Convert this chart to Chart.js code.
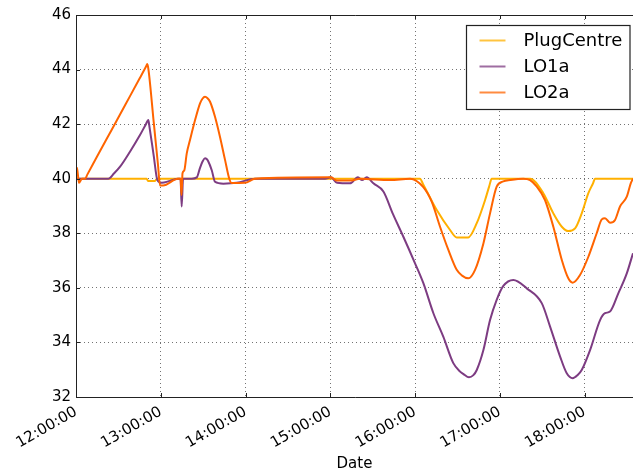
<!DOCTYPE html>
<html>
<head>
<meta charset="utf-8">
<script src="https://cdn.jsdelivr.net/npm/chart.js@4.4.1/dist/chart.umd.min.js"></script>
<style>
    html, body { margin: 0; padding: 0; background: #fff; }
    #wrap { width: 633px; height: 473px; }
</style>
</head>
<body>
<div id="wrap"><canvas id="chart" width="633" height="473"></canvas></div>
<script>
// x values are minutes after 12:00:00
const xTickValues = [0, 60, 120, 180, 240, 300, 360];
const yTickValues = [32, 34, 36, 38, 40, 42, 44, 46];

const plugX = [0, 50, 51, 55.9, 57.3, 243.5, 245.7, 255.4, 264.8, 269.5, 277.7, 283.7, 289.6, 292.5, 294.3, 321.4, 330.8, 337.9, 343.9, 348.5, 353.3, 358, 362.7, 366, 367.4, 394.3];
const plugY = [40, 40, 39.92, 39.92, 40, 40, 39.8, 38.85, 38.12, 37.85, 37.85, 38.37, 39.22, 39.72, 40, 40, 39.47, 38.73, 38.24, 38.08, 38.18, 38.73, 39.47, 39.83, 40, 40];

const lo1aX = [0, 22.9, 27, 31.2, 38.2, 45.3, 49.5, 51.2, 52, 55, 57.6, 60.7, 66.5, 72.2, 74.0, 74.8, 75.8, 81.9, 85.5, 87.8, 89.5, 91.3, 92.5, 93.5, 96.1, 98.4, 104.3, 113.8, 126.7, 176.3, 180.5, 184.8, 194, 199.6, 202.5, 205.8, 210.5, 217.6, 224.4, 231.5, 240, 245.9, 253, 260, 267.1, 271.9, 274.3, 278.2, 281.3, 283.7, 288.4, 293.1, 297.8, 302.5, 309.6, 319.1, 329.7, 335.6, 342.7, 347.4, 351.6, 355, 358, 363.9, 371, 374.5, 378, 383.9, 389.9, 394.3];
const lo1aY = [40, 40, 40.2, 40.44, 40.99, 41.6, 42.0, 42.15, 41.9, 40.85, 39.95, 39.85, 39.92, 40, 40, 38.98, 40, 40, 40.05, 40.4, 40.62, 40.75, 40.72, 40.65, 40.31, 39.89, 39.82, 39.85, 40, 40, 40.05, 39.85, 39.83, 40.05, 39.95, 40.05, 39.83, 39.53, 38.7, 37.9, 36.9, 36.17, 35.07, 34.21, 33.24, 32.93, 32.84, 32.72, 32.8, 32.99, 33.72, 34.82, 35.56, 36.07, 36.29, 35.98, 35.44, 34.58, 33.48, 32.87, 32.69, 32.8, 32.99, 33.72, 34.82, 35.07, 35.13, 35.8, 36.53, 37.27];

const lo2aX = [0, 0.7, 2.1, 4.2, 6.4, 8, 15, 25, 35, 45, 49.5, 50.5, 51.3, 55, 58, 59.5, 61.6, 72.2, 74.0, 74.7, 75.4, 76.6, 78.4, 80.7, 84.3, 87.8, 89.5, 91.3, 93.1, 94.9, 98.4, 101.9, 105.5, 108.5, 110.2, 119.6, 126.7, 180.5, 184.8, 194, 201, 222.3, 236.5, 245.7, 251.8, 257.7, 263.6, 269.5, 273.3, 277.7, 282.5, 288.4, 293.1, 297.8, 302.5, 307.3, 316.7, 321.4, 326.2, 332, 337.9, 343.9, 348.5, 351.6, 356.8, 362.7, 368.6, 372.2, 374.5, 378, 381.6, 385.1, 389.9, 392.7, 394.3];
const lo2aY = [40.3, 40.4, 39.85, 40, 40, 40.15, 40.82, 41.77, 42.72, 43.67, 44.1, 44.2, 44.0, 42.08, 40.53, 39.75, 39.75, 40, 40, 39.4, 40.2, 40.3, 40.93, 41.42, 42.15, 42.76, 42.93, 43.0, 42.95, 42.82, 42.27, 41.54, 40.69, 40.0, 39.84, 39.85, 40, 40.05, 39.93, 39.93, 40, 39.95, 40, 39.7, 39.16, 38.24, 37.39, 36.66, 36.45, 36.35, 36.66, 37.63, 38.73, 39.71, 39.9, 39.95, 40, 39.95, 39.71, 39.22, 38.24, 37.02, 36.35, 36.19, 36.47, 37.14, 38.0, 38.51, 38.55, 38.39, 38.49, 38.98, 39.34, 39.83, 40.0];

const FONT = 'DejaVu Sans';

function toPoints(xs, ys) {
    return xs.map((x, i) => ({ x: x, y: ys[i] }));
}

function fmtTime(mins) {
    const h = 12 + Math.floor(mins / 60);
    const m = Math.round(mins % 60);
    return String(h).padStart(2, '0') + ':' + String(m).padStart(2, '0') + ':00';
}

// matplotlib style frame (right spine is cut off by the figure) + inward ticks
const framePlugin = {
    id: 'frame',
    afterDraw(chart) {
        const { ctx, chartArea: a, scales } = chart;
        ctx.save();
        ctx.strokeStyle = '#222';
        ctx.lineWidth = 1;
        ctx.beginPath();
        ctx.moveTo(a.right + 2, a.top + 0.5);
        ctx.lineTo(a.left + 0.5, a.top + 0.5);
        ctx.lineTo(a.left + 0.5, a.bottom + 0.5);
        ctx.lineTo(a.right + 2, a.bottom + 0.5);
        ctx.stroke();
        ctx.beginPath();
        xTickValues.forEach(v => {
            const px = Math.round(scales.x.getPixelForValue(v)) + 0.5;
            ctx.moveTo(px, a.bottom); ctx.lineTo(px, a.bottom - 4);
            ctx.moveTo(px, a.top); ctx.lineTo(px, a.top + 4);
        });
        yTickValues.forEach(v => {
            const py = Math.round(scales.y.getPixelForValue(v)) + 0.5;
            ctx.moveTo(a.left, py); ctx.lineTo(a.left + 4, py);
        });
        ctx.stroke();
        ctx.restore();
    }
};

const legendPlugin = {
    id: 'boxLegend',
    afterDraw(chart) {
        const { ctx } = chart;
        const sets = chart.data.datasets;
        const bx = 466.5, by = 25.5, bw = 163.5, bh = 84;
        ctx.save();
        ctx.fillStyle = '#fff';
        ctx.fillRect(bx, by, bw, bh);
        ctx.strokeStyle = '#222';
        ctx.lineWidth = 1.2;
        ctx.strokeRect(bx, by, bw, bh);
        ctx.font = '18px "' + FONT + '"';
        ctx.textBaseline = 'middle';
        ctx.textAlign = 'left';
        sets.forEach((ds, i) => {
            const y = by + 15 + i * 26;
            ctx.globalAlpha = 0.75;
            ctx.strokeStyle = ds.borderColor;
            ctx.lineWidth = 2;
            ctx.beginPath();
            ctx.moveTo(bx + 13, y); ctx.lineTo(bx + 39, y);
            ctx.stroke();
            ctx.globalAlpha = 1;
            ctx.fillStyle = '#000';
            ctx.fillText(ds.label, bx + 57, y + 1);
        });
        ctx.restore();
    }
};

const gridStyle = {
    color: 'rgba(0,0,0,0.55)',
    lineWidth: 1,
    drawTicks: false
};
const borderStyle = { display: false, dash: [1, 3] };

new Chart(document.getElementById('chart'), {
    type: 'line',
    data: {
        datasets: [
            { label: 'PlugCentre', data: toPoints(plugX, plugY), borderColor: '#FFB000', order: 3 },
            { label: 'LO1a', data: toPoints(lo1aX, lo1aY), borderColor: '#7D3C82', order: 2 },
            { label: 'LO2a', data: toPoints(lo2aX, lo2aY), borderColor: '#FF6400', order: 1 }
        ]
    },
    options: {
        responsive: false,
        animation: false,
        layout: { padding: { top: 15, right: 0, left: 0, bottom: 0 } },
        elements: {
            line: { borderWidth: 2, cubicInterpolationMode: 'monotone', fill: false },
            point: { radius: 0 }
        },
        plugins: { legend: { display: false }, tooltip: { enabled: false } },
        scales: {
            x: {
                type: 'linear',
                min: 0,
                max: 394.3,
                grid: gridStyle,
                border: borderStyle,
                afterBuildTicks: s => { s.ticks = xTickValues.map(v => ({ value: v })); },
                afterFit: s => { s.height = 76; },
                ticks: {
                    autoSkip: false,
                    minRotation: 30,
                    maxRotation: 30,
                    padding: 6,
                    color: '#000',
                    font: { family: FONT, size: 15 },
                    callback: v => fmtTime(v)
                },
                title: {
                    display: true,
                    text: 'Date',
                    color: '#000',
                    font: { family: FONT, size: 15 },
                    padding: { top: 0, bottom: 0 }
                }
            },
            y: {
                min: 32,
                max: 46,
                grid: gridStyle,
                border: borderStyle,
                afterBuildTicks: s => { s.ticks = yTickValues.map(v => ({ value: v })); },
                afterFit: s => { s.width = 76; },
                ticks: {
                    padding: 5,
                    color: '#000',
                    font: { family: FONT, size: 15 }
                }
            }
        }
    },
    plugins: [framePlugin, legendPlugin]
});
</script>
</body>
</html>
